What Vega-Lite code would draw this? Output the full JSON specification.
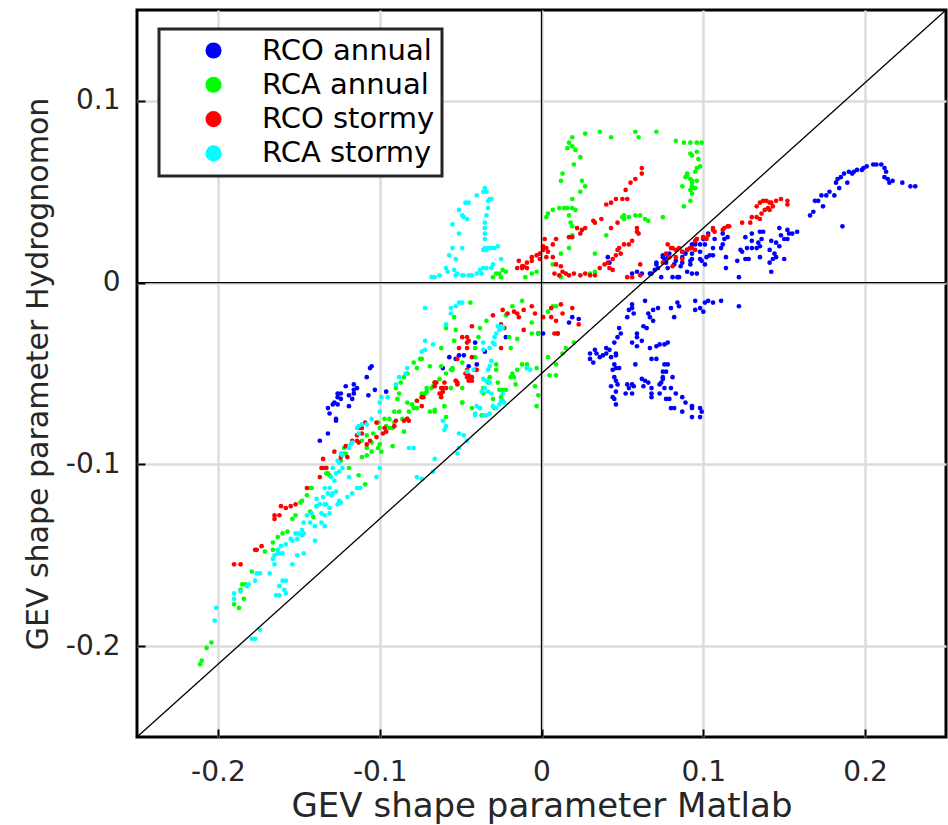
{
  "$schema": "https://vega.github.io/schema/vega-lite/v6.json",
  "width": 809,
  "height": 727,
  "autosize": {"type": "none"},
  "padding": {"left": 137, "top": 10, "right": 2, "bottom": 88},
  "background": "white",
  "config": {
    "view": {"stroke": "#000000", "strokeWidth": 3},
    "font": "DejaVu Sans",
    "legend": {"strokeWidth": 3},
    "axis": {
      "domain": false,
      "grid": true,
      "gridColor": "#dcdcdc",
      "gridWidth": 2.5,
      "tickColor": "#000000",
      "tickWidth": 2,
      "tickSize": -8,
      "labelFont": "DejaVu Sans",
      "labelFontSize": 28,
      "labelColor": "#262626",
      "titleFont": "DejaVu Sans",
      "titleColor": "#262626",
      "titleFontWeight": "normal"
    }
  },
  "datasets": {
    "pts": [
      {"s":"RCO annual","x":0.166,"y":0.037},{"s":"RCO annual","x":0.168,"y":0.039},{"s":"RCO annual","x":0.169,"y":0.045},{"s":"RCO annual","x":0.171,"y":0.045},{"s":"RCO annual","x":0.173,"y":0.048},{"s":"RCO annual","x":0.176,"y":0.048},{"s":"RCO annual","x":0.178,"y":0.050},{"s":"RCO annual","x":0.181,"y":0.048},{"s":"RCO annual","x":0.174,"y":0.042},{"s":"RCO annual","x":0.182,"y":0.055},{"s":"RCO annual","x":0.183,"y":0.057},{"s":"RCO annual","x":0.185,"y":0.058},{"s":"RCO annual","x":0.187,"y":0.060},{"s":"RCO annual","x":0.184,"y":0.052},{"s":"RCO annual","x":0.189,"y":0.055},{"s":"RCO annual","x":0.190,"y":0.061},{"s":"RCO annual","x":0.192,"y":0.060},{"s":"RCO annual","x":0.193,"y":0.061},{"s":"RCO annual","x":0.195,"y":0.062},{"s":"RCO annual","x":0.198,"y":0.062},{"s":"RCO annual","x":0.199,"y":0.063},{"s":"RCO annual","x":0.201,"y":0.064},{"s":"RCO annual","x":0.205,"y":0.065},{"s":"RCO annual","x":0.207,"y":0.065},{"s":"RCO annual","x":0.210,"y":0.065},{"s":"RCO annual","x":0.212,"y":0.063},{"s":"RCO annual","x":0.213,"y":0.061},{"s":"RCO annual","x":0.212,"y":0.058},{"s":"RCO annual","x":0.214,"y":0.057},{"s":"RCO annual","x":0.215,"y":0.055},{"s":"RCO annual","x":0.217,"y":0.056},{"s":"RCO annual","x":0.223,"y":0.055},{"s":"RCO annual","x":0.228,"y":0.053},{"s":"RCO annual","x":0.231,"y":0.053},{"s":"RCO annual","x":0.186,"y":0.031},
      {"s":"RCO annual","x":0.147,"y":0.030},{"s":"RCO annual","x":0.152,"y":0.029},{"s":"RCO annual","x":0.148,"y":0.026},{"s":"RCO annual","x":0.153,"y":0.027},{"s":"RCO annual","x":0.152,"y":0.024},{"s":"RCO annual","x":0.155,"y":0.027},{"s":"RCO annual","x":0.158,"y":0.028},{"s":"RCO annual","x":0.150,"y":0.024},{"s":"RCO annual","x":0.150,"y":0.013},{"s":"RCO annual","x":0.142,"y":0.023},{"s":"RCO annual","x":0.145,"y":0.022},{"s":"RCO annual","x":0.147,"y":0.020},{"s":"RCO annual","x":0.141,"y":0.018},{"s":"RCO annual","x":0.144,"y":0.016},{"s":"RCO annual","x":0.145,"y":0.014},{"s":"RCO annual","x":0.143,"y":0.013},{"s":"RCO annual","x":0.141,"y":0.011},{"s":"RCO annual","x":0.142,"y":0.006},{"s":"RCO annual","x":0.135,"y":0.028},{"s":"RCO annual","x":0.137,"y":0.028},{"s":"RCO annual","x":0.136,"y":0.024},{"s":"RCO annual","x":0.134,"y":0.022},{"s":"RCO annual","x":0.135,"y":0.020},{"s":"RCO annual","x":0.133,"y":0.019},{"s":"RCO annual","x":0.135,"y":0.014},{"s":"RCO annual","x":0.126,"y":0.025},{"s":"RCO annual","x":0.130,"y":0.027},{"s":"RCO annual","x":0.130,"y":0.023},{"s":"RCO annual","x":0.127,"y":0.019},{"s":"RCO annual","x":0.130,"y":0.019},{"s":"RCO annual","x":0.124,"y":0.017},{"s":"RCO annual","x":0.123,"y":0.018},{"s":"RCO annual","x":0.126,"y":0.013},{"s":"RCO annual","x":0.128,"y":0.013},{"s":"RCO annual","x":0.121,"y":0.012},{"s":"RCO annual","x":0.122,"y":0.003},{"s":"RCO annual","x":0.112,"y":0.027},{"s":"RCO annual","x":0.113,"y":0.024},{"s":"RCO annual","x":0.115,"y":0.025},{"s":"RCO annual","x":0.112,"y":0.021},{"s":"RCO annual","x":0.111,"y":0.019},{"s":"RCO annual","x":0.114,"y":0.014},{"s":"RCO annual","x":0.114,"y":0.008},{"s":"RCO annual","x":0.106,"y":0.019},{"s":"RCO annual","x":0.106,"y":0.015},{"s":"RCO annual","x":0.104,"y":0.015},{"s":"RCO annual","x":0.102,"y":0.014},{"s":"RCO annual","x":0.103,"y":0.027},{"s":"RCO annual","x":0.100,"y":0.024},{"s":"RCO annual","x":0.098,"y":0.017},{"s":"RCO annual","x":0.098,"y":0.013},{"s":"RCO annual","x":0.101,"y":0.010},{"s":"RCO annual","x":0.096,"y":0.005},{"s":"RCO annual","x":0.093,"y":0.005},{"s":"RCO annual","x":0.093,"y":0.013},{"s":"RCO annual","x":0.092,"y":0.010},{"s":"RCO annual","x":0.095,"y":0.021},
      {"s":"RCO annual","x":0.107,"y":0.024},{"s":"RCO annual","x":0.101,"y":0.021},{"s":"RCO annual","x":0.098,"y":0.021},{"s":"RCO annual","x":0.093,"y":0.021},{"s":"RCO annual","x":0.095,"y":0.022},{"s":"RCO annual","x":0.092,"y":0.019},{"s":"RCO annual","x":0.090,"y":0.018},{"s":"RCO annual","x":0.087,"y":0.017},{"s":"RCO annual","x":0.089,"y":0.016},{"s":"RCO annual","x":0.093,"y":0.016},{"s":"RCO annual","x":0.092,"y":0.012},{"s":"RCO annual","x":0.087,"y":0.014},{"s":"RCO annual","x":0.087,"y":0.011},{"s":"RCO annual","x":0.086,"y":0.009},{"s":"RCO annual","x":0.083,"y":0.012},{"s":"RCO annual","x":0.082,"y":0.010},{"s":"RCO annual","x":0.079,"y":0.016},{"s":"RCO annual","x":0.078,"y":0.014},{"s":"RCO annual","x":0.076,"y":0.013},{"s":"RCO annual","x":0.075,"y":0.015},{"s":"RCO annual","x":0.077,"y":0.011},{"s":"RCO annual","x":0.071,"y":0.011},{"s":"RCO annual","x":0.072,"y":0.008},{"s":"RCO annual","x":0.070,"y":0.007},{"s":"RCO annual","x":0.068,"y":0.005},{"s":"RCO annual","x":0.074,"y":0.003},{"s":"RCO annual","x":0.078,"y":0.008},{"s":"RCO annual","x":0.081,"y":0.003},{"s":"RCO annual","x":0.084,"y":0.003},{"s":"RCO annual","x":0.085,"y":0.003},{"s":"RCO annual","x":0.090,"y":0.006},{"s":"RCO annual","x":0.099,"y":0.012},
      {"s":"RCO annual","x":0.041,"y":0.014},{"s":"RCO annual","x":0.042,"y":0.011},{"s":"RCO annual","x":0.056,"y":0.005},{"s":"RCO annual","x":0.059,"y":0.006},{"s":"RCO annual","x":0.062,"y":0.005},{"s":"RCO annual","x":0.067,"y":0.005},{"s":"RCO annual","x":0.071,"y":0.010},{"s":"RCO annual","x":0.075,"y":0.014},
      {"s":"RCO annual","x":0.056,"y":-0.012},{"s":"RCO annual","x":0.056,"y":-0.014},{"s":"RCO annual","x":0.054,"y":-0.015},{"s":"RCO annual","x":0.057,"y":-0.017},{"s":"RCO annual","x":0.053,"y":-0.019},{"s":"RCO annual","x":0.064,"y":-0.010},{"s":"RCO annual","x":0.072,"y":-0.014},{"s":"RCO annual","x":0.069,"y":-0.015},{"s":"RCO annual","x":0.066,"y":-0.017},{"s":"RCO annual","x":0.067,"y":-0.019},{"s":"RCO annual","x":0.069,"y":-0.021},{"s":"RCO annual","x":0.082,"y":-0.019},{"s":"RCO annual","x":0.080,"y":-0.014},{"s":"RCO annual","x":0.084,"y":-0.011},{"s":"RCO annual","x":0.085,"y":-0.013},{"s":"RCO annual","x":0.095,"y":-0.010},{"s":"RCO annual","x":0.095,"y":-0.015},{"s":"RCO annual","x":0.098,"y":-0.014},{"s":"RCO annual","x":0.101,"y":-0.011},{"s":"RCO annual","x":0.103,"y":-0.010},{"s":"RCO annual","x":0.106,"y":-0.011},{"s":"RCO annual","x":0.100,"y":-0.016},{"s":"RCO annual","x":0.063,"y":-0.024},{"s":"RCO annual","x":0.065,"y":-0.025},{"s":"RCO annual","x":0.059,"y":-0.028},{"s":"RCO annual","x":0.059,"y":-0.030},{"s":"RCO annual","x":0.056,"y":-0.033},{"s":"RCO annual","x":0.062,"y":-0.032},{"s":"RCO annual","x":0.059,"y":-0.035},{"s":"RCO annual","x":0.048,"y":-0.025},{"s":"RCO annual","x":0.049,"y":-0.028},{"s":"RCO annual","x":0.047,"y":-0.030},{"s":"RCO annual","x":0.045,"y":-0.033},{"s":"RCO annual","x":0.071,"y":-0.035},{"s":"RCO annual","x":0.073,"y":-0.034},{"s":"RCO annual","x":0.076,"y":-0.034},{"s":"RCO annual","x":0.078,"y":-0.033},{"s":"RCO annual","x":0.067,"y":-0.036},{"s":"RCO annual","x":0.040,"y":-0.036},{"s":"RCO annual","x":0.042,"y":-0.037},{"s":"RCO annual","x":0.040,"y":-0.039},{"s":"RCO annual","x":0.038,"y":-0.040},{"s":"RCO annual","x":0.036,"y":-0.041},{"s":"RCO annual","x":0.034,"y":-0.039},{"s":"RCO annual","x":0.030,"y":-0.039},{"s":"RCO annual","x":0.033,"y":-0.037},{"s":"RCO annual","x":0.030,"y":-0.042},{"s":"RCO annual","x":0.032,"y":-0.044},{"s":"RCO annual","x":0.046,"y":-0.039},{"s":"RCO annual","x":0.046,"y":-0.040},{"s":"RCO annual","x":0.043,"y":-0.041},{"s":"RCO annual","x":0.045,"y":-0.045},{"s":"RCO annual","x":0.046,"y":-0.047},{"s":"RCO annual","x":0.044,"y":-0.048},{"s":"RCO annual","x":0.048,"y":-0.047},{"s":"RCO annual","x":0.058,"y":-0.045},{"s":"RCO annual","x":0.068,"y":-0.042},{"s":"RCO annual","x":0.071,"y":-0.042},{"s":"RCO annual","x":0.076,"y":-0.045},{"s":"RCO annual","x":0.078,"y":-0.045},{"s":"RCO annual","x":0.075,"y":-0.049},{"s":"RCO annual","x":0.077,"y":-0.049},{"s":"RCO annual","x":0.075,"y":-0.052},{"s":"RCO annual","x":0.075,"y":-0.053},{"s":"RCO annual","x":0.081,"y":-0.052},{"s":"RCO annual","x":0.074,"y":-0.055},{"s":"RCO annual","x":0.073,"y":-0.056},{"s":"RCO annual","x":0.076,"y":-0.058},{"s":"RCO annual","x":0.045,"y":-0.052},{"s":"RCO annual","x":0.046,"y":-0.054},{"s":"RCO annual","x":0.043,"y":-0.057},{"s":"RCO annual","x":0.047,"y":-0.056},{"s":"RCO annual","x":0.053,"y":-0.056},{"s":"RCO annual","x":0.056,"y":-0.056},{"s":"RCO annual","x":0.057,"y":-0.057},{"s":"RCO annual","x":0.054,"y":-0.058},{"s":"RCO annual","x":0.052,"y":-0.061},{"s":"RCO annual","x":0.056,"y":-0.061},{"s":"RCO annual","x":0.062,"y":-0.053},{"s":"RCO annual","x":0.064,"y":-0.054},{"s":"RCO annual","x":0.066,"y":-0.055},{"s":"RCO annual","x":0.063,"y":-0.057},{"s":"RCO annual","x":0.068,"y":-0.058},{"s":"RCO annual","x":0.068,"y":-0.061},{"s":"RCO annual","x":0.068,"y":-0.063},{"s":"RCO annual","x":0.046,"y":-0.060},{"s":"RCO annual","x":0.044,"y":-0.063},{"s":"RCO annual","x":0.045,"y":-0.064},{"s":"RCO annual","x":0.046,"y":-0.067},{"s":"RCO annual","x":0.073,"y":-0.061},{"s":"RCO annual","x":0.077,"y":-0.064},{"s":"RCO annual","x":0.079,"y":-0.064},{"s":"RCO annual","x":0.080,"y":-0.058},{"s":"RCO annual","x":0.083,"y":-0.061},{"s":"RCO annual","x":0.087,"y":-0.063},{"s":"RCO annual","x":0.089,"y":-0.066},{"s":"RCO annual","x":0.093,"y":-0.068},{"s":"RCO annual","x":0.093,"y":-0.069},{"s":"RCO annual","x":0.098,"y":-0.069},{"s":"RCO annual","x":0.099,"y":-0.071},{"s":"RCO annual","x":0.093,"y":-0.074},{"s":"RCO annual","x":0.098,"y":-0.074},{"s":"RCO annual","x":0.080,"y":-0.069},{"s":"RCO annual","x":0.082,"y":-0.069},{"s":"RCO annual","x":0.087,"y":-0.071},{"s":"RCO annual","x":0.111,"y":-0.010},{"s":"RCO annual","x":0.122,"y":-0.013},
      {"s":"RCO annual","x":-0.106,"y":-0.047},{"s":"RCO annual","x":-0.105,"y":-0.046},{"s":"RCO annual","x":-0.108,"y":-0.052},{"s":"RCO annual","x":-0.116,"y":-0.056},{"s":"RCO annual","x":-0.114,"y":-0.058},{"s":"RCO annual","x":-0.116,"y":-0.059},{"s":"RCO annual","x":-0.116,"y":-0.061},{"s":"RCO annual","x":-0.121,"y":-0.057},{"s":"RCO annual","x":-0.119,"y":-0.062},{"s":"RCO annual","x":-0.117,"y":-0.064},{"s":"RCO annual","x":-0.119,"y":-0.068},{"s":"RCO annual","x":-0.126,"y":-0.061},{"s":"RCO annual","x":-0.126,"y":-0.063},{"s":"RCO annual","x":-0.128,"y":-0.066},{"s":"RCO annual","x":-0.129,"y":-0.067},{"s":"RCO annual","x":-0.126,"y":-0.067},{"s":"RCO annual","x":-0.124,"y":-0.064},{"s":"RCO annual","x":-0.132,"y":-0.069},{"s":"RCO annual","x":-0.131,"y":-0.072},{"s":"RCO annual","x":-0.127,"y":-0.075},{"s":"RCO annual","x":-0.127,"y":-0.076},{"s":"RCO annual","x":-0.124,"y":-0.061},{"s":"RCO annual","x":-0.107,"y":-0.062},{"s":"RCO annual","x":-0.103,"y":-0.059},{"s":"RCO annual","x":-0.132,"y":-0.083},{"s":"RCO annual","x":-0.137,"y":-0.087},{"s":"RCO annual","x":-0.096,"y":-0.060},
      {"s":"RCO annual","x":-0.057,"y":-0.041},{"s":"RCO annual","x":-0.053,"y":-0.042},{"s":"RCO annual","x":-0.051,"y":-0.040},{"s":"RCO annual","x":-0.048,"y":-0.040},{"s":"RCO annual","x":-0.045,"y":-0.046},{"s":"RCO annual","x":-0.040,"y":-0.045},{"s":"RCO annual","x":-0.061,"y":-0.047},{"s":"RCO annual","x":-0.041,"y":-0.033},{"s":"RCO annual","x":-0.035,"y":-0.038},{"s":"RCO annual","x":-0.022,"y":-0.030},{"s":"RCO annual","x":-0.002,"y":-0.028},{"s":"RCO annual","x":0.001,"y":-0.028},{"s":"RCO annual","x":0.010,"y":-0.028},{"s":"RCO annual","x":0.017,"y":-0.022},{"s":"RCO annual","x":0.019,"y":-0.019},{"s":"RCO annual","x":0.023,"y":-0.020},

      {"s":"RCA annual","x":0.019,"y":0.080},{"s":"RCA annual","x":0.017,"y":0.077},{"s":"RCA annual","x":0.016,"y":0.074},{"s":"RCA annual","x":0.019,"y":0.075},{"s":"RCA annual","x":0.021,"y":0.073},{"s":"RCA annual","x":0.024,"y":0.069},{"s":"RCA annual","x":0.020,"y":0.065},{"s":"RCA annual","x":0.013,"y":0.060},{"s":"RCA annual","x":0.012,"y":0.056},{"s":"RCA annual","x":0.025,"y":0.056},{"s":"RCA annual","x":0.027,"y":0.053},{"s":"RCA annual","x":0.024,"y":0.050},{"s":"RCA annual","x":0.019,"y":0.046},{"s":"RCA annual","x":0.007,"y":0.040},{"s":"RCA annual","x":0.004,"y":0.038},{"s":"RCA annual","x":0.003,"y":0.036},{"s":"RCA annual","x":0.011,"y":0.041},{"s":"RCA annual","x":0.014,"y":0.041},{"s":"RCA annual","x":0.016,"y":0.041},{"s":"RCA annual","x":0.019,"y":0.041},{"s":"RCA annual","x":0.021,"y":0.040},{"s":"RCA annual","x":0.017,"y":0.037},{"s":"RCA annual","x":0.018,"y":0.033},{"s":"RCA annual","x":0.019,"y":0.031},{"s":"RCA annual","x":0.027,"y":0.082},{"s":"RCA annual","x":0.036,"y":0.083},{"s":"RCA annual","x":0.043,"y":0.080},{"s":"RCA annual","x":0.058,"y":0.083},{"s":"RCA annual","x":0.060,"y":0.080},{"s":"RCA annual","x":0.071,"y":0.083},{"s":"RCA annual","x":0.083,"y":0.078},{"s":"RCA annual","x":0.088,"y":0.077},{"s":"RCA annual","x":0.092,"y":0.077},{"s":"RCA annual","x":0.096,"y":0.077},{"s":"RCA annual","x":0.099,"y":0.077},{"s":"RCA annual","x":0.092,"y":0.071},{"s":"RCA annual","x":0.093,"y":0.070},{"s":"RCA annual","x":0.096,"y":0.072},{"s":"RCA annual","x":0.097,"y":0.068},{"s":"RCA annual","x":0.098,"y":0.064},{"s":"RCA annual","x":0.096,"y":0.063},{"s":"RCA annual","x":0.095,"y":0.061},{"s":"RCA annual","x":0.090,"y":0.060},{"s":"RCA annual","x":0.089,"y":0.058},{"s":"RCA annual","x":0.092,"y":0.057},{"s":"RCA annual","x":0.093,"y":0.056},{"s":"RCA annual","x":0.096,"y":0.056},{"s":"RCA annual","x":0.093,"y":0.053},{"s":"RCA annual","x":0.095,"y":0.052},{"s":"RCA annual","x":0.092,"y":0.051},{"s":"RCA annual","x":0.093,"y":0.049},{"s":"RCA annual","x":0.092,"y":0.045},{"s":"RCA annual","x":0.088,"y":0.042},{"s":"RCA annual","x":0.087,"y":0.053},{"s":"RCA annual","x":0.090,"y":0.059},{"s":"RCA annual","x":0.093,"y":0.055},{"s":"RCA annual","x":0.094,"y":0.052},{"s":"RCA annual","x":0.050,"y":0.036},{"s":"RCA annual","x":0.051,"y":0.037},{"s":"RCA annual","x":0.054,"y":0.036},{"s":"RCA annual","x":0.058,"y":0.037},{"s":"RCA annual","x":0.061,"y":0.037},{"s":"RCA annual","x":0.064,"y":0.035},{"s":"RCA annual","x":0.066,"y":0.034},{"s":"RCA annual","x":0.051,"y":0.035},{"s":"RCA annual","x":0.075,"y":0.036},{"s":"RCA annual","x":0.040,"y":0.026},{"s":"RCA annual","x":0.033,"y":0.016},{"s":"RCA annual","x":0.019,"y":0.026},{"s":"RCA annual","x":0.017,"y":0.019},{"s":"RCA annual","x":0.012,"y":0.016},{"s":"RCA annual","x":0.007,"y":0.010},{"s":"RCA annual","x":-0.010,"y":0.003},{"s":"RCA annual","x":-0.006,"y":0.005},{"s":"RCA annual","x":-0.003,"y":0.006},{"s":"RCA annual","x":-0.026,"y":0.005},{"s":"RCA annual","x":-0.024,"y":0.007},{"s":"RCA annual","x":-0.022,"y":0.006},{"s":"RCA annual","x":-0.028,"y":0.005},{"s":"RCA annual","x":-0.030,"y":0.003},{"s":"RCA annual","x":-0.025,"y":0.003},{"s":"RCA annual","x":0.012,"y":0.003},{"s":"RCA annual","x":0.030,"y":0.005},{"s":"RCA annual","x":0.033,"y":0.006},
      {"s":"RCA annual","x":-0.044,"y":-0.011},{"s":"RCA annual","x":-0.018,"y":-0.013},{"s":"RCA annual","x":-0.012,"y":-0.010},{"s":"RCA annual","x":-0.022,"y":-0.018},{"s":"RCA annual","x":-0.038,"y":-0.025},{"s":"RCA annual","x":-0.053,"y":-0.026},{"s":"RCA annual","x":-0.059,"y":-0.025},{"s":"RCA annual","x":-0.054,"y":-0.032},{"s":"RCA annual","x":-0.039,"y":-0.030},{"s":"RCA annual","x":-0.062,"y":-0.036},{"s":"RCA annual","x":-0.041,"y":-0.036},{"s":"RCA annual","x":-0.019,"y":-0.036},{"s":"RCA annual","x":-0.015,"y":-0.031},{"s":"RCA annual","x":-0.006,"y":-0.022},{"s":"RCA annual","x":-0.006,"y":-0.028},{"s":"RCA annual","x":-0.002,"y":-0.028},{"s":"RCA annual","x":0.004,"y":-0.016},{"s":"RCA annual","x":0.007,"y":-0.013},{"s":"RCA annual","x":0.009,"y":-0.013},{"s":"RCA annual","x":0.013,"y":-0.039},{"s":"RCA annual","x":0.015,"y":-0.036},{"s":"RCA annual","x":0.020,"y":-0.033},{"s":"RCA annual","x":0.004,"y":-0.041},{"s":"RCA annual","x":0.009,"y":-0.045},{"s":"RCA annual","x":0.005,"y":-0.051},{"s":"RCA annual","x":0.009,"y":-0.051},{"s":"RCA annual","x":-0.003,"y":-0.047},{"s":"RCA annual","x":-0.004,"y":-0.057},{"s":"RCA annual","x":-0.003,"y":-0.068},{"s":"RCA annual","x":-0.009,"y":-0.045},{"s":"RCA annual","x":-0.009,"y":-0.047},{"s":"RCA annual","x":-0.015,"y":-0.048},{"s":"RCA annual","x":-0.018,"y":-0.050},{"s":"RCA annual","x":-0.017,"y":-0.052},{"s":"RCA annual","x":-0.016,"y":-0.056},{"s":"RCA annual","x":-0.028,"y":-0.048},{"s":"RCA annual","x":-0.027,"y":-0.055},{"s":"RCA annual","x":-0.026,"y":-0.059},{"s":"RCA annual","x":-0.024,"y":-0.059},{"s":"RCA annual","x":-0.022,"y":-0.059},{"s":"RCA annual","x":-0.025,"y":-0.063},{"s":"RCA annual","x":-0.024,"y":-0.065},{"s":"RCA annual","x":-0.029,"y":-0.069},{"s":"RCA annual","x":-0.030,"y":-0.064},{"s":"RCA annual","x":-0.034,"y":-0.054},{"s":"RCA annual","x":-0.032,"y":-0.052},{"s":"RCA annual","x":-0.033,"y":-0.055},{"s":"RCA annual","x":-0.036,"y":-0.058},{"s":"RCA annual","x":-0.036,"y":-0.061},{"s":"RCA annual","x":-0.038,"y":-0.069},{"s":"RCA annual","x":-0.043,"y":-0.069},{"s":"RCA annual","x":-0.037,"y":-0.073},{"s":"RCA annual","x":-0.049,"y":-0.066},{"s":"RCA annual","x":-0.049,"y":-0.058},{"s":"RCA annual","x":-0.056,"y":-0.058},{"s":"RCA annual","x":-0.055,"y":-0.047},{"s":"RCA annual","x":-0.056,"y":-0.048},{"s":"RCA annual","x":-0.063,"y":-0.053},{"s":"RCA annual","x":-0.066,"y":-0.055},{"s":"RCA annual","x":-0.069,"y":-0.046},{"s":"RCA annual","x":-0.067,"y":-0.057},{"s":"RCA annual","x":-0.071,"y":-0.058},{"s":"RCA annual","x":-0.074,"y":-0.061},{"s":"RCA annual","x":-0.066,"y":-0.071},{"s":"RCA annual","x":-0.069,"y":-0.071},{"s":"RCA annual","x":-0.059,"y":-0.074},{"s":"RCA annual","x":-0.074,"y":-0.042},{"s":"RCA annual","x":-0.041,"y":-0.041},{"s":"RCA annual","x":-0.049,"y":-0.044},{"s":"RCA annual","x":-0.028,"y":-0.045},{"s":"RCA annual","x":-0.019,"y":-0.052},{"s":"RCA annual","x":-0.012,"y":-0.045},{"s":"RCA annual","x":-0.034,"y":-0.021},{"s":"RCA annual","x":-0.020,"y":-0.030},{"s":"RCA annual","x":-0.054,"y":-0.019},{"s":"RCA annual","x":-0.002,"y":-0.062},
      {"s":"RCA annual","x":-0.079,"y":-0.044},{"s":"RCA annual","x":-0.075,"y":-0.042},{"s":"RCA annual","x":-0.077,"y":-0.047},{"s":"RCA annual","x":-0.083,"y":-0.050},{"s":"RCA annual","x":-0.085,"y":-0.052},{"s":"RCA annual","x":-0.087,"y":-0.055},{"s":"RCA annual","x":-0.090,"y":-0.058},{"s":"RCA annual","x":-0.088,"y":-0.061},{"s":"RCA annual","x":-0.089,"y":-0.064},{"s":"RCA annual","x":-0.083,"y":-0.066},{"s":"RCA annual","x":-0.080,"y":-0.067},{"s":"RCA annual","x":-0.079,"y":-0.069},{"s":"RCA annual","x":-0.077,"y":-0.069},{"s":"RCA annual","x":-0.077,"y":-0.065},{"s":"RCA annual","x":-0.074,"y":-0.063},{"s":"RCA annual","x":-0.072,"y":-0.061},{"s":"RCA annual","x":-0.071,"y":-0.060},{"s":"RCA annual","x":-0.068,"y":-0.058},{"s":"RCA annual","x":-0.066,"y":-0.070},{"s":"RCA annual","x":-0.082,"y":-0.071},{"s":"RCA annual","x":-0.088,"y":-0.071},{"s":"RCA annual","x":-0.091,"y":-0.071},{"s":"RCA annual","x":-0.086,"y":-0.075},{"s":"RCA annual","x":-0.083,"y":-0.075},{"s":"RCA annual","x":-0.097,"y":-0.075},{"s":"RCA annual","x":-0.094,"y":-0.075},{"s":"RCA annual","x":-0.091,"y":-0.077},{"s":"RCA annual","x":-0.101,"y":-0.077},{"s":"RCA annual","x":-0.100,"y":-0.080},{"s":"RCA annual","x":-0.096,"y":-0.079},{"s":"RCA annual","x":-0.092,"y":-0.080},{"s":"RCA annual","x":-0.085,"y":-0.082},{"s":"RCA annual","x":-0.104,"y":-0.083},{"s":"RCA annual","x":-0.108,"y":-0.084},{"s":"RCA annual","x":-0.105,"y":-0.088},{"s":"RCA annual","x":-0.111,"y":-0.087},{"s":"RCA annual","x":-0.108,"y":-0.091},{"s":"RCA annual","x":-0.100,"y":-0.089},{"s":"RCA annual","x":-0.101,"y":-0.091},{"s":"RCA annual","x":-0.099,"y":-0.093},{"s":"RCA annual","x":-0.092,"y":-0.090},{"s":"RCA annual","x":-0.105,"y":-0.093},{"s":"RCA annual","x":-0.108,"y":-0.095},{"s":"RCA annual","x":-0.111,"y":-0.096},{"s":"RCA annual","x":-0.113,"y":-0.106},{"s":"RCA annual","x":-0.109,"y":-0.111},{"s":"RCA annual","x":-0.122,"y":-0.091},{"s":"RCA annual","x":-0.121,"y":-0.094},{"s":"RCA annual","x":-0.123,"y":-0.094},{"s":"RCA annual","x":-0.119,"y":-0.102},{"s":"RCA annual","x":-0.132,"y":-0.105},{"s":"RCA annual","x":-0.133,"y":-0.105},{"s":"RCA annual","x":-0.131,"y":-0.106},{"s":"RCA annual","x":-0.142,"y":-0.113},{"s":"RCA annual","x":-0.143,"y":-0.113},{"s":"RCA annual","x":-0.145,"y":-0.117},{"s":"RCA annual","x":-0.148,"y":-0.120},{"s":"RCA annual","x":-0.124,"y":-0.098},{"s":"RCA annual","x":-0.133,"y":-0.102},{"s":"RCA annual","x":-0.094,"y":-0.080},{"s":"RCA annual","x":-0.059,"y":-0.050},{"s":"RCA annual","x":-0.055,"y":-0.048},{"s":"RCA annual","x":-0.062,"y":-0.046},{"s":"RCA annual","x":-0.054,"y":-0.032},{"s":"RCA annual","x":-0.049,"y":-0.066},{"s":"RCA annual","x":-0.060,"y":-0.068},
      {"s":"RCA annual","x":-0.149,"y":-0.121},{"s":"RCA annual","x":-0.152,"y":-0.128},{"s":"RCA annual","x":-0.154,"y":-0.130},{"s":"RCA annual","x":-0.143,"y":-0.126},{"s":"RCA annual","x":-0.141,"y":-0.129},{"s":"RCA annual","x":-0.157,"y":-0.137},{"s":"RCA annual","x":-0.160,"y":-0.138},{"s":"RCA annual","x":-0.163,"y":-0.140},{"s":"RCA annual","x":-0.166,"y":-0.143},{"s":"RCA annual","x":-0.166,"y":-0.147},{"s":"RCA annual","x":-0.171,"y":-0.148},{"s":"RCA annual","x":-0.179,"y":-0.159},{"s":"RCA annual","x":-0.185,"y":-0.166},{"s":"RCA annual","x":-0.183,"y":-0.166},{"s":"RCA annual","x":-0.186,"y":-0.169},{"s":"RCA annual","x":-0.184,"y":-0.174},{"s":"RCA annual","x":-0.190,"y":-0.177},{"s":"RCA annual","x":-0.187,"y":-0.179},{"s":"RCA annual","x":-0.204,"y":-0.198},{"s":"RCA annual","x":-0.207,"y":-0.201},{"s":"RCA annual","x":-0.210,"y":-0.208},{"s":"RCA annual","x":-0.211,"y":-0.210},

      {"s":"RCO stormy","x":0.062,"y":0.063},{"s":"RCO stormy","x":0.062,"y":0.060},{"s":"RCO stormy","x":0.058,"y":0.057},{"s":"RCO stormy","x":0.055,"y":0.055},{"s":"RCO stormy","x":0.052,"y":0.051},{"s":"RCO stormy","x":0.053,"y":0.046},{"s":"RCO stormy","x":0.050,"y":0.046},{"s":"RCO stormy","x":0.046,"y":0.046},{"s":"RCO stormy","x":0.043,"y":0.044},{"s":"RCO stormy","x":0.040,"y":0.043},{"s":"RCO stormy","x":0.037,"y":0.035},{"s":"RCO stormy","x":0.033,"y":0.033},{"s":"RCO stormy","x":0.032,"y":0.034},{"s":"RCO stormy","x":0.043,"y":0.030},{"s":"RCO stormy","x":0.047,"y":0.033},{"s":"RCO stormy","x":0.027,"y":0.030},{"s":"RCO stormy","x":0.025,"y":0.029},{"s":"RCO stormy","x":0.022,"y":0.030},{"s":"RCO stormy","x":0.024,"y":0.027},{"s":"RCO stormy","x":0.019,"y":0.025},{"s":"RCO stormy","x":0.017,"y":0.025},{"s":"RCO stormy","x":0.009,"y":0.024},{"s":"RCO stormy","x":0.007,"y":0.021},{"s":"RCO stormy","x":0.003,"y":0.019},{"s":"RCO stormy","x":0.001,"y":0.018},{"s":"RCO stormy","x":0.004,"y":0.017},{"s":"RCO stormy","x":-0.001,"y":0.016},{"s":"RCO stormy","x":-0.003,"y":0.015},{"s":"RCO stormy","x":-0.006,"y":0.014},{"s":"RCO stormy","x":-0.009,"y":0.011},{"s":"RCO stormy","x":-0.011,"y":0.009},{"s":"RCO stormy","x":-0.012,"y":0.008},{"s":"RCO stormy","x":-0.009,"y":0.008},{"s":"RCO stormy","x":-0.006,"y":0.012},{"s":"RCO stormy","x":-0.001,"y":0.013},{"s":"RCO stormy","x":0.003,"y":0.014},{"s":"RCO stormy","x":0.007,"y":0.014},{"s":"RCO stormy","x":0.009,"y":0.010},{"s":"RCO stormy","x":0.012,"y":0.009},{"s":"RCO stormy","x":0.008,"y":0.005},{"s":"RCO stormy","x":0.011,"y":0.004},{"s":"RCO stormy","x":0.013,"y":0.006},{"s":"RCO stormy","x":0.015,"y":0.005},{"s":"RCO stormy","x":0.017,"y":0.004},{"s":"RCO stormy","x":0.020,"y":0.005},{"s":"RCO stormy","x":0.024,"y":0.004},{"s":"RCO stormy","x":0.027,"y":0.005},{"s":"RCO stormy","x":0.030,"y":0.004},{"s":"RCO stormy","x":0.033,"y":0.004},{"s":"RCO stormy","x":0.036,"y":0.008},{"s":"RCO stormy","x":0.039,"y":0.010},{"s":"RCO stormy","x":0.041,"y":0.011},{"s":"RCO stormy","x":0.044,"y":0.013},{"s":"RCO stormy","x":0.046,"y":0.015},{"s":"RCO stormy","x":0.047,"y":0.018},{"s":"RCO stormy","x":0.048,"y":0.019},{"s":"RCO stormy","x":0.049,"y":0.016},{"s":"RCO stormy","x":0.051,"y":0.021},{"s":"RCO stormy","x":0.054,"y":0.021},{"s":"RCO stormy","x":0.056,"y":0.023},{"s":"RCO stormy","x":0.059,"y":0.028},{"s":"RCO stormy","x":0.060,"y":0.027},{"s":"RCO stormy","x":0.059,"y":0.030},{"s":"RCO stormy","x":0.061,"y":0.010},{"s":"RCO stormy","x":0.053,"y":0.003},{"s":"RCO stormy","x":0.056,"y":0.003},{"s":"RCO stormy","x":0.061,"y":0.004},{"s":"RCO stormy","x":0.044,"y":0.007},{"s":"RCO stormy","x":0.042,"y":0.008},{"s":"RCO stormy","x":0.078,"y":0.021},{"s":"RCO stormy","x":0.080,"y":0.019},{"s":"RCO stormy","x":0.081,"y":0.019},{"s":"RCO stormy","x":0.083,"y":0.018},{"s":"RCO stormy","x":0.085,"y":0.019},{"s":"RCO stormy","x":0.087,"y":0.017},{"s":"RCO stormy","x":0.090,"y":0.018},{"s":"RCO stormy","x":0.092,"y":0.019},{"s":"RCO stormy","x":0.095,"y":0.023},{"s":"RCO stormy","x":0.096,"y":0.024},{"s":"RCO stormy","x":0.100,"y":0.025},{"s":"RCO stormy","x":0.103,"y":0.026},{"s":"RCO stormy","x":0.106,"y":0.030},{"s":"RCO stormy","x":0.077,"y":0.016},{"s":"RCO stormy","x":0.079,"y":0.014},{"s":"RCO stormy","x":0.083,"y":0.014},{"s":"RCO stormy","x":0.087,"y":0.013},{"s":"RCO stormy","x":0.081,"y":0.009},{"s":"RCO stormy","x":0.075,"y":0.011},
      {"s":"RCO stormy","x":0.124,"y":0.033},{"s":"RCO stormy","x":0.129,"y":0.033},{"s":"RCO stormy","x":0.130,"y":0.036},{"s":"RCO stormy","x":0.133,"y":0.036},{"s":"RCO stormy","x":0.135,"y":0.035},{"s":"RCO stormy","x":0.136,"y":0.038},{"s":"RCO stormy","x":0.138,"y":0.040},{"s":"RCO stormy","x":0.140,"y":0.041},{"s":"RCO stormy","x":0.141,"y":0.040},{"s":"RCO stormy","x":0.142,"y":0.044},{"s":"RCO stormy","x":0.135,"y":0.044},{"s":"RCO stormy","x":0.137,"y":0.045},{"s":"RCO stormy","x":0.139,"y":0.045},{"s":"RCO stormy","x":0.141,"y":0.044},{"s":"RCO stormy","x":0.143,"y":0.042},{"s":"RCO stormy","x":0.145,"y":0.045},{"s":"RCO stormy","x":0.148,"y":0.046},{"s":"RCO stormy","x":0.152,"y":0.045},{"s":"RCO stormy","x":0.152,"y":0.043},{"s":"RCO stormy","x":0.133,"y":0.042},{"s":"RCO stormy","x":0.115,"y":0.031},{"s":"RCO stormy","x":0.113,"y":0.030},{"s":"RCO stormy","x":0.112,"y":0.029},{"s":"RCO stormy","x":0.116,"y":0.031},{"s":"RCO stormy","x":0.106,"y":0.029},{"s":"RCO stormy","x":0.107,"y":0.028},{"s":"RCO stormy","x":0.100,"y":0.025},{"s":"RCO stormy","x":0.096,"y":0.024},{"s":"RCO stormy","x":0.102,"y":0.024},{"s":"RCO stormy","x":0.093,"y":0.019},{"s":"RCO stormy","x":0.095,"y":0.018},
      {"s":"RCO stormy","x":-0.015,"y":0.008},{"s":"RCO stormy","x":-0.014,"y":0.012},{"s":"RCO stormy","x":-0.012,"y":0.009},{"s":"RCO stormy","x":0.002,"y":0.024},{"s":"RCO stormy","x":0.001,"y":0.020},
      {"s":"RCO stormy","x":-0.030,"y":-0.018},{"s":"RCO stormy","x":-0.024,"y":-0.015},{"s":"RCO stormy","x":-0.021,"y":-0.017},{"s":"RCO stormy","x":-0.017,"y":-0.016},{"s":"RCO stormy","x":-0.015,"y":-0.017},{"s":"RCO stormy","x":-0.014,"y":-0.019},{"s":"RCO stormy","x":-0.011,"y":-0.015},{"s":"RCO stormy","x":-0.006,"y":-0.013},{"s":"RCO stormy","x":-0.004,"y":-0.017},{"s":"RCO stormy","x":0.001,"y":-0.019},{"s":"RCO stormy","x":0.006,"y":-0.019},{"s":"RCO stormy","x":0.006,"y":-0.014},{"s":"RCO stormy","x":0.012,"y":-0.012},{"s":"RCO stormy","x":0.013,"y":-0.017},{"s":"RCO stormy","x":0.019,"y":-0.014},{"s":"RCO stormy","x":0.009,"y":-0.021},{"s":"RCO stormy","x":0.008,"y":-0.028},{"s":"RCO stormy","x":0.010,"y":-0.028},{"s":"RCO stormy","x":0.023,"y":-0.023},{"s":"RCO stormy","x":-0.011,"y":-0.026},{"s":"RCO stormy","x":-0.023,"y":-0.025},{"s":"RCO stormy","x":-0.025,"y":-0.023},{"s":"RCO stormy","x":-0.043,"y":-0.024},{"s":"RCO stormy","x":-0.046,"y":-0.030},{"s":"RCO stormy","x":-0.049,"y":-0.030},{"s":"RCO stormy","x":-0.045,"y":-0.032},{"s":"RCO stormy","x":-0.046,"y":-0.033},{"s":"RCO stormy","x":-0.051,"y":-0.036},{"s":"RCO stormy","x":-0.046,"y":-0.036},{"s":"RCO stormy","x":-0.043,"y":-0.041},{"s":"RCO stormy","x":-0.025,"y":-0.036},{"s":"RCO stormy","x":-0.040,"y":-0.048},{"s":"RCO stormy","x":-0.041,"y":-0.048},{"s":"RCO stormy","x":-0.045,"y":-0.051},{"s":"RCO stormy","x":-0.046,"y":-0.052},{"s":"RCO stormy","x":-0.044,"y":-0.053},{"s":"RCO stormy","x":-0.043,"y":-0.052},{"s":"RCO stormy","x":-0.045,"y":-0.054},{"s":"RCO stormy","x":-0.043,"y":-0.054},{"s":"RCO stormy","x":-0.052,"y":-0.055},{"s":"RCO stormy","x":-0.053,"y":-0.054},{"s":"RCO stormy","x":-0.060,"y":-0.055},{"s":"RCO stormy","x":-0.061,"y":-0.058},{"s":"RCO stormy","x":-0.059,"y":-0.058},{"s":"RCO stormy","x":-0.063,"y":-0.061},{"s":"RCO stormy","x":-0.062,"y":-0.063},{"s":"RCO stormy","x":-0.066,"y":-0.055},{"s":"RCO stormy","x":-0.073,"y":-0.063},{"s":"RCO stormy","x":-0.074,"y":-0.068},
      {"s":"RCO stormy","x":-0.052,"y":-0.042},{"s":"RCO stormy","x":-0.046,"y":-0.048},{"s":"RCO stormy","x":-0.047,"y":-0.050},{"s":"RCO stormy","x":-0.053,"y":-0.054},{"s":"RCO stormy","x":-0.052,"y":-0.056},{"s":"RCO stormy","x":-0.062,"y":-0.058},{"s":"RCO stormy","x":-0.061,"y":-0.060},{"s":"RCO stormy","x":-0.062,"y":-0.061},{"s":"RCO stormy","x":-0.074,"y":-0.063},{"s":"RCO stormy","x":-0.077,"y":-0.065},{"s":"RCO stormy","x":-0.065,"y":-0.055},{"s":"RCO stormy","x":-0.066,"y":-0.057},{"s":"RCO stormy","x":-0.083,"y":-0.075},{"s":"RCO stormy","x":-0.082,"y":-0.076},{"s":"RCO stormy","x":-0.085,"y":-0.076},{"s":"RCO stormy","x":-0.090,"y":-0.076},{"s":"RCO stormy","x":-0.091,"y":-0.079},{"s":"RCO stormy","x":-0.097,"y":-0.080},{"s":"RCO stormy","x":-0.096,"y":-0.082},{"s":"RCO stormy","x":-0.098,"y":-0.083},{"s":"RCO stormy","x":-0.102,"y":-0.077},{"s":"RCO stormy","x":-0.102,"y":-0.085},{"s":"RCO stormy","x":-0.109,"y":-0.077},{"s":"RCO stormy","x":-0.111,"y":-0.080},{"s":"RCO stormy","x":-0.113,"y":-0.080},{"s":"RCO stormy","x":-0.114,"y":-0.084},{"s":"RCO stormy","x":-0.114,"y":-0.087},{"s":"RCO stormy","x":-0.117,"y":-0.087},{"s":"RCO stormy","x":-0.113,"y":-0.088},{"s":"RCO stormy","x":-0.121,"y":-0.090},{"s":"RCO stormy","x":-0.120,"y":-0.096},{"s":"RCO stormy","x":-0.124,"y":-0.096},{"s":"RCO stormy","x":-0.125,"y":-0.098},{"s":"RCO stormy","x":-0.128,"y":-0.093},{"s":"RCO stormy","x":-0.135,"y":-0.097},{"s":"RCO stormy","x":-0.136,"y":-0.102},{"s":"RCO stormy","x":-0.133,"y":-0.102},{"s":"RCO stormy","x":-0.135,"y":-0.102},{"s":"RCO stormy","x":-0.137,"y":-0.107},{"s":"RCO stormy","x":-0.145,"y":-0.113},{"s":"RCO stormy","x":-0.111,"y":-0.083},{"s":"RCO stormy","x":-0.106,"y":-0.087},{"s":"RCO stormy","x":-0.108,"y":-0.089},
      {"s":"RCO stormy","x":-0.161,"y":-0.123},{"s":"RCO stormy","x":-0.158,"y":-0.124},{"s":"RCO stormy","x":-0.155,"y":-0.123},{"s":"RCO stormy","x":-0.152,"y":-0.122},{"s":"RCO stormy","x":-0.162,"y":-0.128},{"s":"RCO stormy","x":-0.165,"y":-0.128},{"s":"RCO stormy","x":-0.165,"y":-0.130},{"s":"RCO stormy","x":-0.173,"y":-0.145},{"s":"RCO stormy","x":-0.176,"y":-0.147},{"s":"RCO stormy","x":-0.177,"y":-0.147},{"s":"RCO stormy","x":-0.190,"y":-0.155},{"s":"RCO stormy","x":-0.186,"y":-0.155},

      {"s":"RCA stormy","x":-0.035,"y":0.052},{"s":"RCA stormy","x":-0.034,"y":0.050},{"s":"RCA stormy","x":-0.036,"y":0.050},{"s":"RCA stormy","x":-0.032,"y":0.046},{"s":"RCA stormy","x":-0.031,"y":0.046},{"s":"RCA stormy","x":-0.033,"y":0.045},{"s":"RCA stormy","x":-0.040,"y":0.048},{"s":"RCA stormy","x":-0.033,"y":0.041},{"s":"RCA stormy","x":-0.034,"y":0.037},{"s":"RCA stormy","x":-0.035,"y":0.033},{"s":"RCA stormy","x":-0.035,"y":0.030},{"s":"RCA stormy","x":-0.035,"y":0.027},{"s":"RCA stormy","x":-0.035,"y":0.024},{"s":"RCA stormy","x":-0.035,"y":0.019},{"s":"RCA stormy","x":-0.034,"y":0.018},{"s":"RCA stormy","x":-0.031,"y":0.019},{"s":"RCA stormy","x":-0.029,"y":0.019},{"s":"RCA stormy","x":-0.027,"y":0.020},{"s":"RCA stormy","x":-0.025,"y":0.013},{"s":"RCA stormy","x":-0.030,"y":0.010},{"s":"RCA stormy","x":-0.031,"y":0.008},{"s":"RCA stormy","x":-0.034,"y":0.008},{"s":"RCA stormy","x":-0.036,"y":0.008},{"s":"RCA stormy","x":-0.038,"y":0.007},{"s":"RCA stormy","x":-0.037,"y":0.005},{"s":"RCA stormy","x":-0.040,"y":0.005},{"s":"RCA stormy","x":-0.043,"y":0.004},{"s":"RCA stormy","x":-0.045,"y":0.004},{"s":"RCA stormy","x":-0.048,"y":0.004},{"s":"RCA stormy","x":-0.049,"y":0.004},{"s":"RCA stormy","x":-0.052,"y":0.005},{"s":"RCA stormy","x":-0.053,"y":0.004},{"s":"RCA stormy","x":-0.054,"y":0.007},{"s":"RCA stormy","x":-0.058,"y":0.006},{"s":"RCA stormy","x":-0.059,"y":0.008},{"s":"RCA stormy","x":-0.063,"y":0.004},{"s":"RCA stormy","x":-0.066,"y":0.003},{"s":"RCA stormy","x":-0.068,"y":0.003},{"s":"RCA stormy","x":-0.051,"y":0.040},{"s":"RCA stormy","x":-0.049,"y":0.037},{"s":"RCA stormy","x":-0.048,"y":0.036},{"s":"RCA stormy","x":-0.046,"y":0.035},{"s":"RCA stormy","x":-0.055,"y":0.032},{"s":"RCA stormy","x":-0.051,"y":0.027},{"s":"RCA stormy","x":-0.049,"y":0.019},{"s":"RCA stormy","x":-0.055,"y":0.019},{"s":"RCA stormy","x":-0.057,"y":0.015},{"s":"RCA stormy","x":-0.053,"y":0.013},{"s":"RCA stormy","x":-0.047,"y":0.044},{"s":"RCA stormy","x":-0.045,"y":0.044},{"s":"RCA stormy","x":-0.036,"y":0.018},{"s":"RCA stormy","x":-0.033,"y":0.019},
      {"s":"RCA stormy","x":-0.072,"y":-0.014},{"s":"RCA stormy","x":-0.056,"y":-0.014},{"s":"RCA stormy","x":-0.053,"y":-0.013},{"s":"RCA stormy","x":-0.051,"y":-0.011},{"s":"RCA stormy","x":-0.049,"y":-0.011},{"s":"RCA stormy","x":-0.056,"y":-0.017},{"s":"RCA stormy","x":-0.059,"y":-0.023},{"s":"RCA stormy","x":-0.072,"y":-0.032},{"s":"RCA stormy","x":-0.067,"y":-0.034},{"s":"RCA stormy","x":-0.072,"y":-0.037},{"s":"RCA stormy","x":-0.074,"y":-0.038},{"s":"RCA stormy","x":-0.027,"y":-0.024},{"s":"RCA stormy","x":-0.025,"y":-0.024},{"s":"RCA stormy","x":-0.026,"y":-0.026},{"s":"RCA stormy","x":-0.028,"y":-0.028},{"s":"RCA stormy","x":-0.029,"y":-0.030},{"s":"RCA stormy","x":-0.030,"y":-0.033},{"s":"RCA stormy","x":-0.032,"y":-0.036},{"s":"RCA stormy","x":-0.036,"y":-0.037},{"s":"RCA stormy","x":-0.036,"y":-0.033},{"s":"RCA stormy","x":-0.029,"y":-0.034},{"s":"RCA stormy","x":-0.024,"y":-0.025},{"s":"RCA stormy","x":-0.031,"y":-0.043},{"s":"RCA stormy","x":-0.032,"y":-0.046},{"s":"RCA stormy","x":-0.033,"y":-0.048},{"s":"RCA stormy","x":-0.046,"y":-0.049},{"s":"RCA stormy","x":-0.042,"y":-0.048},{"s":"RCA stormy","x":-0.036,"y":-0.053},{"s":"RCA stormy","x":-0.034,"y":-0.054},{"s":"RCA stormy","x":-0.032,"y":-0.055},{"s":"RCA stormy","x":-0.035,"y":-0.058},{"s":"RCA stormy","x":-0.037,"y":-0.060},{"s":"RCA stormy","x":-0.033,"y":-0.060},{"s":"RCA stormy","x":-0.031,"y":-0.061},{"s":"RCA stormy","x":-0.024,"y":-0.061},{"s":"RCA stormy","x":-0.025,"y":-0.065},{"s":"RCA stormy","x":-0.023,"y":-0.066},{"s":"RCA stormy","x":-0.026,"y":-0.067},{"s":"RCA stormy","x":-0.028,"y":-0.069},{"s":"RCA stormy","x":-0.030,"y":-0.068},{"s":"RCA stormy","x":-0.040,"y":-0.068},{"s":"RCA stormy","x":-0.038,"y":-0.069},{"s":"RCA stormy","x":-0.041,"y":-0.072},{"s":"RCA stormy","x":-0.041,"y":-0.073},{"s":"RCA stormy","x":-0.036,"y":-0.073},{"s":"RCA stormy","x":-0.034,"y":-0.073},{"s":"RCA stormy","x":-0.032,"y":-0.072},{"s":"RCA stormy","x":-0.009,"y":-0.047},{"s":"RCA stormy","x":-0.007,"y":-0.048},
      {"s":"RCA stormy","x":-0.083,"y":-0.047},{"s":"RCA stormy","x":-0.084,"y":-0.050},{"s":"RCA stormy","x":-0.088,"y":-0.052},{"s":"RCA stormy","x":-0.090,"y":-0.056},{"s":"RCA stormy","x":-0.095,"y":-0.063},{"s":"RCA stormy","x":-0.099,"y":-0.063},{"s":"RCA stormy","x":-0.100,"y":-0.066},{"s":"RCA stormy","x":-0.100,"y":-0.071},{"s":"RCA stormy","x":-0.105,"y":-0.075},{"s":"RCA stormy","x":-0.111,"y":-0.078},{"s":"RCA stormy","x":-0.113,"y":-0.079},{"s":"RCA stormy","x":-0.114,"y":-0.080},{"s":"RCA stormy","x":-0.108,"y":-0.078},{"s":"RCA stormy","x":-0.113,"y":-0.083},{"s":"RCA stormy","x":-0.117,"y":-0.088},{"s":"RCA stormy","x":-0.118,"y":-0.089},{"s":"RCA stormy","x":-0.119,"y":-0.091},{"s":"RCA stormy","x":-0.124,"y":-0.094},{"s":"RCA stormy","x":-0.123,"y":-0.095},{"s":"RCA stormy","x":-0.126,"y":-0.098},{"s":"RCA stormy","x":-0.125,"y":-0.099},{"s":"RCA stormy","x":-0.129,"y":-0.102},{"s":"RCA stormy","x":-0.127,"y":-0.105},{"s":"RCA stormy","x":-0.125,"y":-0.104},{"s":"RCA stormy","x":-0.123,"y":-0.102},{"s":"RCA stormy","x":-0.119,"y":-0.107},{"s":"RCA stormy","x":-0.130,"y":-0.107},{"s":"RCA stormy","x":-0.128,"y":-0.109},{"s":"RCA stormy","x":-0.131,"y":-0.113},{"s":"RCA stormy","x":-0.134,"y":-0.113},{"s":"RCA stormy","x":-0.132,"y":-0.116},{"s":"RCA stormy","x":-0.129,"y":-0.116},{"s":"RCA stormy","x":-0.127,"y":-0.115},{"s":"RCA stormy","x":-0.130,"y":-0.117},{"s":"RCA stormy","x":-0.135,"y":-0.118},{"s":"RCA stormy","x":-0.139,"y":-0.119},{"s":"RCA stormy","x":-0.137,"y":-0.122},{"s":"RCA stormy","x":-0.139,"y":-0.123},{"s":"RCA stormy","x":-0.133,"y":-0.122},{"s":"RCA stormy","x":-0.125,"y":-0.120},{"s":"RCA stormy","x":-0.120,"y":-0.118},{"s":"RCA stormy","x":-0.114,"y":-0.113},{"s":"RCA stormy","x":-0.117,"y":-0.116},{"s":"RCA stormy","x":-0.082,"y":-0.091},{"s":"RCA stormy","x":-0.079,"y":-0.091},{"s":"RCA stormy","x":-0.066,"y":-0.097},{"s":"RCA stormy","x":-0.077,"y":-0.107},{"s":"RCA stormy","x":-0.074,"y":-0.108},{"s":"RCA stormy","x":-0.067,"y":-0.104},{"s":"RCA stormy","x":-0.061,"y":-0.076},{"s":"RCA stormy","x":-0.059,"y":-0.079},{"s":"RCA stormy","x":-0.060,"y":-0.081},{"s":"RCA stormy","x":-0.051,"y":-0.083},{"s":"RCA stormy","x":-0.048,"y":-0.084},{"s":"RCA stormy","x":-0.046,"y":-0.087},{"s":"RCA stormy","x":-0.052,"y":-0.094},{"s":"RCA stormy","x":-0.051,"y":-0.091},{"s":"RCA stormy","x":-0.102,"y":-0.107},{"s":"RCA stormy","x":-0.100,"y":-0.102},{"s":"RCA stormy","x":-0.112,"y":-0.113},
      {"s":"RCA stormy","x":-0.139,"y":-0.123},{"s":"RCA stormy","x":-0.134,"y":-0.122},{"s":"RCA stormy","x":-0.131,"y":-0.124},{"s":"RCA stormy","x":-0.126,"y":-0.122},{"s":"RCA stormy","x":-0.124,"y":-0.121},{"s":"RCA stormy","x":-0.136,"y":-0.127},{"s":"RCA stormy","x":-0.142,"y":-0.127},{"s":"RCA stormy","x":-0.145,"y":-0.128},{"s":"RCA stormy","x":-0.134,"y":-0.128},{"s":"RCA stormy","x":-0.131,"y":-0.127},{"s":"RCA stormy","x":-0.143,"y":-0.132},{"s":"RCA stormy","x":-0.147,"y":-0.132},{"s":"RCA stormy","x":-0.136,"y":-0.132},{"s":"RCA stormy","x":-0.134,"y":-0.134},{"s":"RCA stormy","x":-0.140,"y":-0.134},{"s":"RCA stormy","x":-0.148,"y":-0.136},{"s":"RCA stormy","x":-0.150,"y":-0.138},{"s":"RCA stormy","x":-0.152,"y":-0.138},{"s":"RCA stormy","x":-0.155,"y":-0.141},{"s":"RCA stormy","x":-0.158,"y":-0.144},{"s":"RCA stormy","x":-0.161,"y":-0.145},{"s":"RCA stormy","x":-0.163,"y":-0.147},{"s":"RCA stormy","x":-0.163,"y":-0.149},{"s":"RCA stormy","x":-0.160,"y":-0.149},{"s":"RCA stormy","x":-0.165,"y":-0.150},{"s":"RCA stormy","x":-0.166,"y":-0.152},{"s":"RCA stormy","x":-0.162,"y":-0.149},{"s":"RCA stormy","x":-0.154,"y":-0.142},{"s":"RCA stormy","x":-0.151,"y":-0.141},{"s":"RCA stormy","x":-0.147,"y":-0.138},{"s":"RCA stormy","x":-0.148,"y":-0.139},{"s":"RCA stormy","x":-0.140,"y":-0.142},{"s":"RCA stormy","x":-0.147,"y":-0.149},{"s":"RCA stormy","x":-0.151,"y":-0.150},{"s":"RCA stormy","x":-0.154,"y":-0.155},{"s":"RCA stormy","x":-0.165,"y":-0.155},{"s":"RCA stormy","x":-0.168,"y":-0.160},{"s":"RCA stormy","x":-0.174,"y":-0.160},{"s":"RCA stormy","x":-0.176,"y":-0.160},{"s":"RCA stormy","x":-0.177,"y":-0.164},{"s":"RCA stormy","x":-0.181,"y":-0.166},{"s":"RCA stormy","x":-0.182,"y":-0.167},{"s":"RCA stormy","x":-0.190,"y":-0.171},{"s":"RCA stormy","x":-0.186,"y":-0.170},{"s":"RCA stormy","x":-0.190,"y":-0.174},{"s":"RCA stormy","x":-0.160,"y":-0.164},{"s":"RCA stormy","x":-0.158,"y":-0.164},{"s":"RCA stormy","x":-0.162,"y":-0.167},{"s":"RCA stormy","x":-0.159,"y":-0.169},{"s":"RCA stormy","x":-0.164,"y":-0.172},{"s":"RCA stormy","x":-0.162,"y":-0.172},{"s":"RCA stormy","x":-0.158,"y":-0.171},{"s":"RCA stormy","x":-0.201,"y":-0.179},{"s":"RCA stormy","x":-0.202,"y":-0.186},{"s":"RCA stormy","x":-0.174,"y":-0.191},{"s":"RCA stormy","x":-0.177,"y":-0.196},{"s":"RCA stormy","x":-0.179,"y":-0.196}
    ]
  },
  "layer": [
    {
      "data": {"name": "pts"},
      "mark": {"type": "circle", "size": 22, "opacity": 1},
      "encoding": {
        "x": {
          "field": "x", "type": "quantitative",
          "title": "GEV shape parameter Matlab",
          "scale": {"domain": [-0.25, 0.25], "nice": false, "zero": false},
          "axis": {
            "values": [-0.2, -0.1, 0, 0.1, 0.2],
            "labelExpr": "toString(datum.value)",
            "labelPadding": 29,
            "titleFontSize": 34,
            "titleX": 404.5,
            "titleY": 79,
            "titleAlign": "center",
            "titleBaseline": "alphabetic"
          }
        },
        "y": {
          "field": "y", "type": "quantitative",
          "title": "GEV shape parameter Hydrognomon",
          "scale": {"domain": [-0.25, 0.15], "nice": false, "zero": false},
          "axis": {
            "values": [-0.2, -0.1, 0, 0.1],
            "labelExpr": "toString(datum.value)",
            "labelPadding": 25,
            "titleFontSize": 30,
            "titleX": -90,
            "titleY": 363.5,
            "titleAngle": -90,
            "titleAlign": "center",
            "titleBaseline": "alphabetic"
          }
        },
        "color": {
          "field": "s", "type": "nominal",
          "scale": {
            "domain": ["RCO annual", "RCA annual", "RCO stormy", "RCA stormy"],
            "range": ["#0000ff", "#00ff00", "#ff0000", "#00ffff"]
          },
          "legend": {
            "title": null,
            "orient": "none",
            "legendX": 22,
            "legendY": 19,
            "padding": 7,
            "rowPadding": 4.3,
            "symbolType": "circle",
            "symbolSize": 260,
            "symbolStrokeWidth": 0,
            "symbolOffset": 33,
            "labelOffset": 34,
            "labelFont": "DejaVu Sans",
            "labelFontSize": 29,
            "labelColor": "#000000",
            "labelLimit": 400,
            "fillColor": "#ffffff",
            "strokeColor": "#262626"
          }
        }
      }
    },
    {
      "data": {"values": [{}]},
      "mark": {"type": "rule", "color": "#000000", "strokeWidth": 1.3},
      "encoding": {
        "x": {"datum": 0, "type": "quantitative", "title": "GEV shape parameter Matlab"}
      }
    },
    {
      "data": {"values": [{}]},
      "mark": {"type": "rule", "color": "#000000", "strokeWidth": 1.3},
      "encoding": {
        "y": {"datum": 0, "type": "quantitative", "title": "GEV shape parameter Hydrognomon"}
      }
    },
    {
      "data": {"values": [{}]},
      "mark": {"type": "rule", "color": "#000000", "strokeWidth": 1.3},
      "encoding": {
        "x": {"datum": -0.25, "type": "quantitative", "title": "GEV shape parameter Matlab"},
        "x2": {"datum": 0.25},
        "y": {"datum": -0.25, "type": "quantitative", "title": "GEV shape parameter Hydrognomon"},
        "y2": {"datum": 0.15}
      }
    }
  ]
}
